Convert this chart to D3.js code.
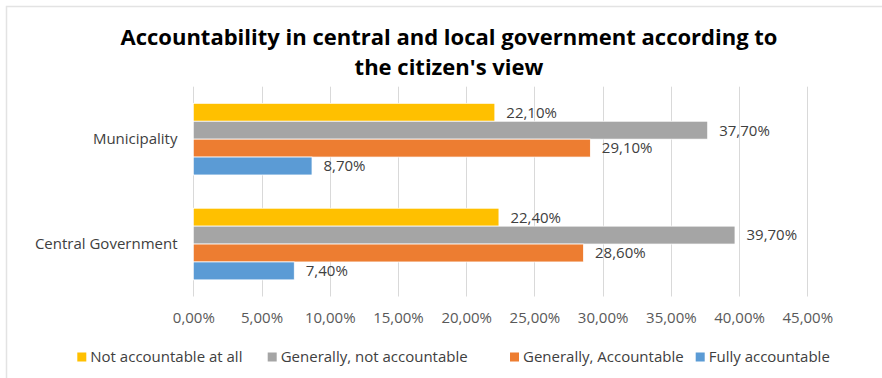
<!DOCTYPE html>
<html>
<head>
<meta charset="utf-8">
<script src="https://cdn.jsdelivr.net/npm/d3@7"></script>
<style>
  html, body { margin: 0; padding: 0; background: #fff; }
  svg { display: block; }
  text { font-family: "Open Sans", "Noto Sans", sans-serif; }
</style>
</head>
<body>
<svg id="chart" width="882" height="378"></svg>
<script>
// ---- data ----
const categories = ["Municipality", "Central Government"];
const seriesNames = ["Not accountable at all", "Generally, not accountable", "Generally, Accountable", "Fully accountable"];
const seriesColors = ["#FFC000", "#A5A5A5", "#ED7D31", "#5B9BD5"];
const municipalityValues = [22.1, 37.7, 29.1, 8.7];
const centralValues = [22.4, 39.7, 28.6, 7.4];
const tickValues = [0, 5, 10, 15, 20, 25, 30, 35, 40, 45];
const titleLines = ["Accountability in central and local government according to", "the citizen's view"];

const valuesByCategory = { "Municipality": municipalityValues, "Central Government": centralValues };
const fmt = v => v.toFixed(2).replace(".", ",") + "%";

const svg = d3.select("#chart");

// chart border
svg.append("rect")
  .attr("x", 6.5).attr("y", 6.5).attr("width", 900).attr("height", 400)
  .attr("fill", "none").attr("stroke", "#E3E3E3").attr("stroke-width", 1.5);

// title
const title = svg.append("g");
const t1 = title.append("text").text(titleLines[0])
  .attr("x", 449).attr("y", 45).attr("text-anchor", "middle")
  .attr("font-weight", "bold").attr("font-size", 22).attr("fill", "#000");
const w = t1.node().getComputedTextLength();
const titleSize = 22 * 657 / w;
t1.attr("font-size", titleSize);
title.append("text").text(titleLines[1])
  .attr("x", 449).attr("y", 74.5).attr("text-anchor", "middle")
  .attr("font-weight", "bold").attr("font-size", titleSize).attr("fill", "#000");

// scales
const x = d3.scaleLinear().domain([0, 45]).range([193.3, 807.3]);
const y0 = d3.scaleBand().domain(categories).range([86.7, 296.5])
  .paddingInner(0.317).paddingOuter(0.317 / 2);
const y1 = d3.scaleBand().domain(seriesNames).range([0, y0.bandwidth()]);
const color = d3.scaleOrdinal().domain(seriesNames).range(seriesColors);

// gridlines
svg.append("g").selectAll("line").data(tickValues).join("line")
  .attr("x1", d => Math.round(x(d)) + 0.5).attr("x2", d => Math.round(x(d)) + 0.5)
  .attr("y1", 86.7).attr("y2", 296.5)
  .attr("stroke", "#D9D9D9").attr("stroke-width", 1);

// x-axis labels
const xAxis = d3.axisBottom(x).tickValues(tickValues).tickSize(0).tickPadding(0)
  .tickFormat(d => fmt(d));
const xg = svg.append("g").attr("transform", "translate(0,310)").call(xAxis);
xg.select(".domain").remove();
xg.selectAll("text").attr("font-size", 15).attr("fill", "#595959")
  .attr("font-family", "'Open Sans', sans-serif").attr("dy", "0.85em");

// y-axis labels
const yAxis = d3.axisLeft(y0).tickSize(0).tickPadding(0);
const yg = svg.append("g").attr("transform", "translate(177.5,0)").call(yAxis);
yg.select(".domain").remove();
yg.selectAll("text").attr("font-size", 15).attr("fill", "#404040")
  .attr("font-family", "'Open Sans', sans-serif").attr("dy", "0.33em");

// bars
const groups = svg.append("g").selectAll("g").data(categories).join("g")
  .attr("transform", c => `translate(0,${y0(c)})`);

const rows = c => seriesNames.map((s, i) => ({ cat: c, series: s, value: valuesByCategory[c][i] }));

groups.selectAll("rect").data(rows).join("rect")
  .attr("x", x(0))
  .attr("y", d => y1(d.series))
  .attr("width", d => x(d.value) - x(0))
  .attr("height", y1.bandwidth())
  .attr("fill", d => color(d.series))
  .attr("stroke", "#fff").attr("stroke-width", 0.75);

groups.selectAll("text.lbl").data(rows).join("text").attr("class", "lbl")
  .attr("x", d => x(d.value) + 11.5)
  .attr("y", d => y1(d.series) + y1.bandwidth() / 2)
  .attr("dy", "0.36em")
  .attr("font-size", 15).attr("fill", "#404040")
  .text(d => fmt(d.value));

// legend
const legendX = [77.3, 267.7, 510, 695.7];
const legend = svg.append("g").selectAll("g").data(seriesNames).join("g")
  .attr("transform", (d, i) => `translate(${legendX[i]},352.5)`);
legend.append("rect").attr("width", 9).attr("height", 9).attr("fill", d => color(d));
legend.append("text").attr("x", 13).attr("y", 9.2)
  .attr("font-size", 15).attr("fill", "#404040").text(d => d);
</script>
</body>
</html>
